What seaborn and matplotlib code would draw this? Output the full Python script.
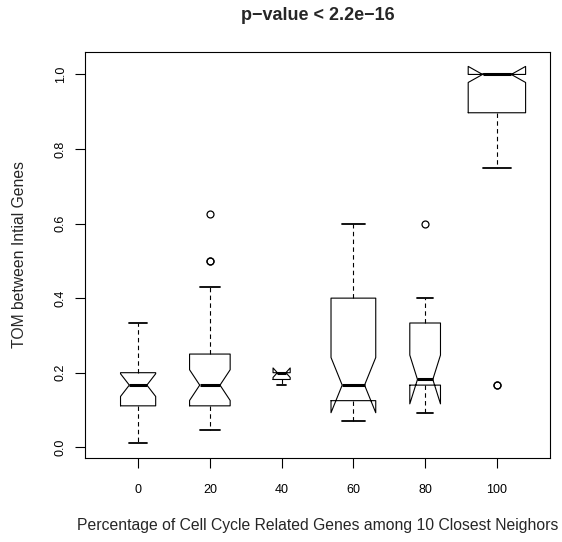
import numpy as np
import pandas as pd
import seaborn as sns
import matplotlib.pyplot as plt
from matplotlib.ticker import FormatStrFormatter

# TOM values per group (percentage of cell cycle genes among 10 closest neighbors)
categories = ["0", "20", "40", "60", "80", "100"]

tom_0 = [0.0125, 0.05, 0.0714, 0.0909, 0.1, 0.1111, 0.125, 0.1429, 0.1429,
         0.1667, 0.1667, 0.1667, 0.1818, 0.2, 0.2, 0.2, 0.2222, 0.25, 0.25,
         0.2857, 0.333]
tom_20 = [0.0455, 0.0667, 0.0769, 0.0909, 0.1, 0.1, 0.1111, 0.1111, 0.125,
          0.125, 0.1429, 0.1429, 0.1538, 0.1667, 0.1667, 0.1818, 0.2, 0.2,
          0.2222, 0.2308, 0.25, 0.25, 0.2857, 0.3333, 0.4286, 0.5, 0.5, 0.625]
tom_40 = [0.1667, 0.1818, 0.2, 0.2, 0.2]
tom_60 = [0.0714, 0.0769, 0.0833, 0.0909, 0.1, 0.1, 0.1111, 0.1176, 0.125,
          0.125, 0.1333, 0.1429, 0.1429, 0.1538, 0.1538, 0.1667, 0.1667,
          0.1667, 0.2, 0.2, 0.25, 0.2857, 0.3333, 0.3333, 0.4, 0.4, 0.4,
          0.4286, 0.4545, 0.5, 0.5, 0.5, 0.5714, 0.6]
tom_80 = [0.0909, 0.125, 0.1429, 0.1667, 0.1667, 0.1667, 0.1818, 0.1818,
          0.1818, 0.2, 0.25, 0.3333, 0.3333, 0.3636, 0.4, 0.6]
tom_100 = [0.1667, 0.1667, 0.75, 0.8, 0.8, 0.8333, 0.8571, 0.875, 0.875,
           0.8889, 0.8889, 0.8889, 0.8889, 0.8889, 0.9, 0.9, 0.9, 0.9091,
           0.9167, 0.9231, 0.9286, 0.9333, 0.9444, 0.95, 0.9545,
           1.0, 1.0, 1.0, 1.0, 1.0, 1.0, 1.0, 1.0, 1.0, 1.0,
           1.0, 1.0, 1.0, 1.0, 1.0, 1.0, 1.0, 1.0, 1.0, 1.0,
           1.0, 1.0, 1.0, 1.0, 1.0, 1.0, 1.0, 1.0, 1.0, 1.0, 1.0]

groups = [tom_0, tom_20, tom_40, tom_60, tom_80, tom_100]

sns.set_style("white")
plt.rcParams['font.family'] = ['Liberation Sans', 'DejaVu Sans']

fig = plt.figure(figsize=(5.62, 5.42), dpi=100)
ax = fig.add_axes([85 / 562, 1 - 457.7 / 542, 465 / 562, 406 / 542])

# varwidth-like boxes: width proportional to sqrt(n)
nmax = max(len(g) for g in groups)
for label, vals in zip(categories, groups):
    sub = pd.DataFrame({"pct": label, "tom": vals})
    sns.boxplot(
        data=sub, x="pct", y="tom", order=categories, ax=ax,
        width=0.8 * np.sqrt(len(vals) / nmax),
        notch=True, fill=False, color="black", linewidth=0.8,
        medianprops=dict(linewidth=2.2, color="black"),
        whiskerprops=dict(linestyle=(0, (4, 3)), linewidth=0.8),
        capprops=dict(linewidth=1.3),
        flierprops=dict(marker="o", markerfacecolor="none",
                        markeredgecolor="black", markersize=5,
                        markeredgewidth=0.9),
    )

ax.set_xlim(-0.74, 5.74)
ax.set_ylim(-0.028, 1.061)
ax.set_yticks([0.0, 0.2, 0.4, 0.6, 0.8, 1.0])
ax.yaxis.set_major_formatter(FormatStrFormatter('%.1f'))
ax.tick_params(axis="both", direction="out", length=7, width=0.8,
               labelsize=9, colors="black", bottom=True, left=True)
ax.tick_params(axis="x", pad=12)
ax.tick_params(axis="y", pad=6, labelrotation=90)
for t in ax.get_yticklabels():
    t.set_verticalalignment("center")
for s in ax.spines.values():
    s.set_visible(True)
    s.set_color("black")
    s.set_linewidth(0.8)

ax.set_xlabel("Percentage of Cell Cycle Related Genes among 10 Closest Neighors",
              fontsize=11.3)
ax.set_ylabel("TOM between Intial Genes", fontsize=11.3)
ax.xaxis.set_label_coords(0.5, -0.148)
ax.yaxis.set_label_coords(-0.125, 0.5)
fig.text(317.5 / 562, 1 - 15 / 542, "p\u2212value < 2.2e\u221216",
         ha="center", va="center", fontsize=13, fontweight="bold")

fig.savefig("out.png", dpi=100)
